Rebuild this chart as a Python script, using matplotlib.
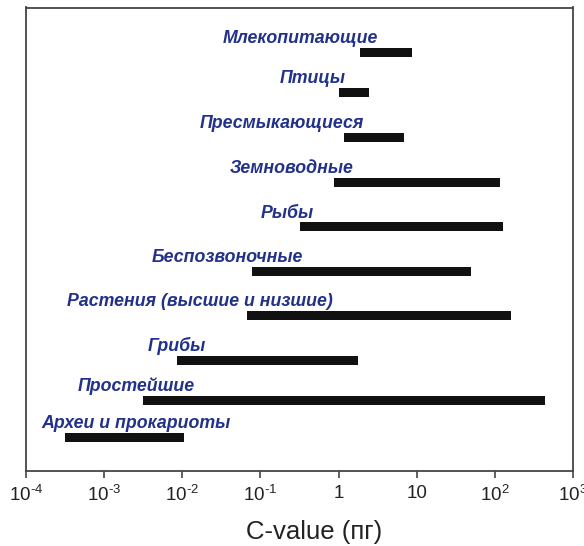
import numpy as np
import matplotlib
matplotlib.use("Agg")
import matplotlib.pyplot as plt
import matplotlib.transforms as mtransforms
from matplotlib.ticker import FixedLocator, FixedFormatter

# genome size ranges (pg)
groups = ["Млекопитающие", "Птицы", "Пресмыкающиеся", "Земноводные", "Рыбы",
          "Беспозвоночные", "Растения (высшие и низшие)", "Грибы", "Простейшие",
          "Археи и прокариоты"]
c_low = [1.9, 1.0, 1.19, 0.885, 0.32, 0.079, 0.068, 0.0085, 0.0031, 0.00032]
c_high = [8.7, 2.47, 6.85, 115, 127, 50, 159, 1.77, 437, 0.0106]

tick_vals = [1e-4, 1e-3, 1e-2, 1e-1, 1, 10, 1e2, 1e3]
tick_text = [r"$\mathregular{10^{‐4}}$", r"$\mathregular{10^{‐3}}$", r"$\mathregular{10^{‐2}}$",
             r"$\mathregular{10^{‐1}}$", "1", "10", r"$\mathregular{10^{2}}$", r"$\mathregular{10^{3}}$"]

# layout: row centres and label left edges, in pixels of the figure
row_y = [52.5, 92.5, 137.5, 182.2, 227, 271.2, 315.7, 361, 400.5, 437.8]
label_left = [222.7, 280, 200, 230, 261, 151.7, 66.7, 147.7, 77.3, 41.7]

plt.rcParams["font.family"] = ["Liberation Sans", "DejaVu Sans"]
plt.rcParams["mathtext.fontset"] = "custom"
plt.rcParams["mathtext.rm"] = "Liberation Sans"

W, H = 584, 546
x0, x1, y0, y1 = 26, 573, 7.5, 470.7
fig = plt.figure(figsize=(W / 100, H / 100), dpi=100)
ax = fig.add_axes([x0 / W, 1 - y1 / H, (x1 - x0) / W, (y1 - y0) / H])

ax.set_xscale("log")
ax.set_xlim(1e-4, 1e3)
ax.set_ylim(y1, y0)

widths = [hi - lo for lo, hi in zip(c_low, c_high)]
ax.barh(row_y, widths, left=c_low, height=9, color="#111111")

trans = mtransforms.blended_transform_factory(ax.transAxes, ax.transData)
for name, lx, yc in zip(groups, label_left, row_y):
    ax.text((lx - x0) / (x1 - x0), yc - 9.5, name, transform=trans,
            ha="left", va="baseline", fontsize=12.8, fontweight="bold",
            fontstyle="italic", color="#22318a")

ax.xaxis.set_major_locator(FixedLocator(tick_vals))
ax.xaxis.set_major_formatter(FixedFormatter(tick_text))
ax.xaxis.set_minor_locator(FixedLocator([]))
ax.tick_params(axis="x", direction="out", length=5, width=1.2, color="#444444",
               labelsize=13.5, labelcolor="#222222", pad=5)
ax.set_yticks([])
for s in ax.spines.values():
    s.set_color("#444444")
    s.set_linewidth(1.3)

ax.set_xlabel("C-value (пг)", fontsize=18.5, color="#222222")
ax.xaxis.label.set_va("baseline")
ax.xaxis.set_label_coords((313.7 - x0) / (x1 - x0), (y1 - 539) / (y1 - y0))

fig.savefig("out.png", dpi=100)
